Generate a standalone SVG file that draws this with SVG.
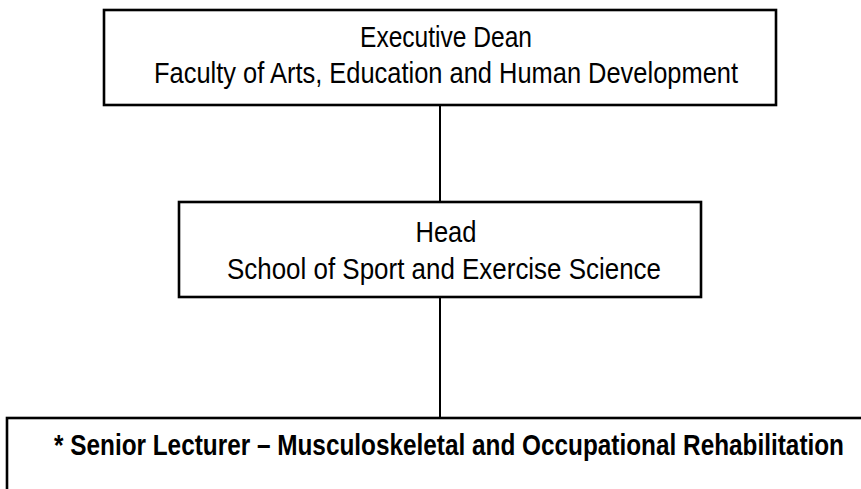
<svg xmlns="http://www.w3.org/2000/svg" width="861" height="489" viewBox="0 0 861 489">
<style>
.box{fill:#fff;stroke:#000;stroke-width:2.6}
.t{font-family:"Liberation Sans",Arial,sans-serif;font-size:30px;fill:#000;text-anchor:middle}
.b{font-weight:bold}
.c{stroke:#000;stroke-width:2;fill:none}
</style>
<rect width="861" height="489" fill="#fff"/>
<g id="connectors">
<line class="c" x1="440" y1="105" x2="440" y2="202"/>
<line class="c" x1="440" y1="297" x2="440" y2="418"/>
</g>
<g id="dean">
<rect class="box" x="104" y="10" width="672" height="95"/>
<text class="t" x="446" y="47" textLength="172" lengthAdjust="spacingAndGlyphs">Executive Dean</text>
<text class="t" x="446" y="83" textLength="584" lengthAdjust="spacingAndGlyphs">Faculty of Arts, Education and Human Development</text>
</g>
<g id="head">
<rect class="box" x="179" y="202" width="522" height="95"/>
<text class="t" x="446" y="242" textLength="61" lengthAdjust="spacingAndGlyphs">Head</text>
<text class="t" x="444" y="279" textLength="434" lengthAdjust="spacingAndGlyphs">School of Sport and Exercise Science</text>
</g>
<g id="lecturer">
<rect class="box" x="7" y="418" width="870" height="90"/>
<text class="t b" x="449" y="455" textLength="790" lengthAdjust="spacingAndGlyphs">* Senior Lecturer – Musculoskeletal and Occupational Rehabilitation</text>
</g>
</svg>
